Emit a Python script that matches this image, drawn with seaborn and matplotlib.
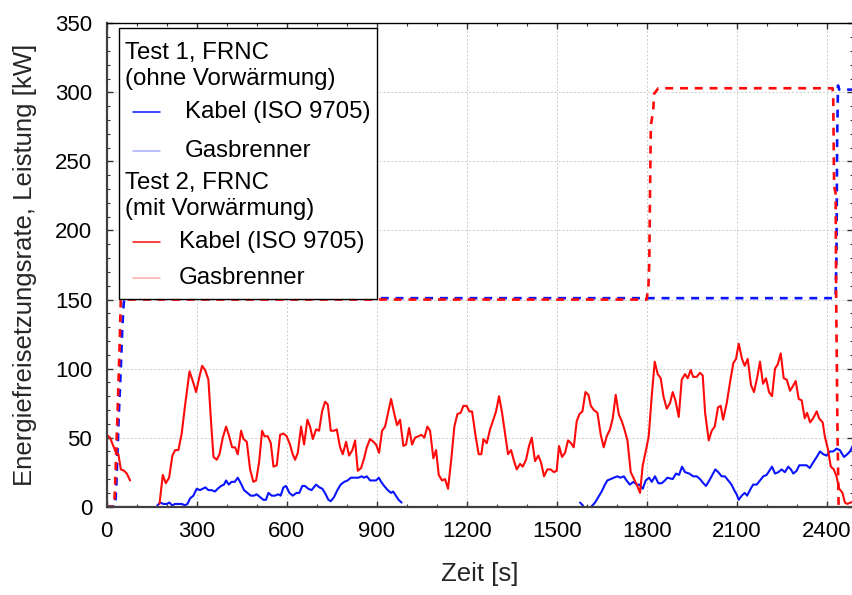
import matplotlib
matplotlib.use("Agg")
import numpy as np
import pandas as pd
import matplotlib.pyplot as plt
import seaborn as sns
from matplotlib.lines import Line2D
from matplotlib.ticker import MultipleLocator
from matplotlib.offsetbox import AnchoredOffsetbox, VPacker, HPacker, TextArea, DrawingArea

# Test 1, FRNC (ohne Vorwärmung) - Kabel, drei Abschnitte
t1_kabel_zeit_a = [0, 117]
t1_kabel_kw_a = [0, 0]
t1_kabel_zeit_b = [169, 178, 189, 200, 209, 218, 228, 239, 250, 261, 269, 278, 289, 300, 311, 320, 329, 339,
                   350, 361, 370, 381, 391, 398, 407, 416, 427, 437, 447, 458, 469, 480, 491, 500, 511, 522,
                   531, 539, 550, 561, 572, 580, 589, 598, 609, 620, 633, 642, 652, 661, 672, 683, 698, 709,
                   719, 730, 739, 747, 758, 769, 780, 792, 803, 814, 828, 839, 850, 858, 867, 878, 889, 898,
                   907, 915, 925, 937, 948, 955, 964, 973, 983]
t1_kabel_kw_b = [1, 3, 2, 2, 3, 1, 2, 2, 2, 1, 2, 6, 8, 13, 12, 13, 14, 12,
                 12, 11, 13, 15, 16, 19, 16, 18, 18, 21, 17, 12, 10, 8, 8, 9, 7, 5,
                 5, 10, 8, 8, 9, 8, 14, 15, 10, 8, 10, 10, 15, 15, 13, 12, 16, 14,
                 13, 9, 5, 4, 7, 12, 16, 18, 19, 21, 21, 21, 22, 21, 22, 19, 19, 19,
                 21, 18, 15, 12, 10, 11, 8, 5, 3]
t1_kabel_zeit_c = [1578, 1587, 1595, 1608, 1617, 1628, 1639, 1650, 1661, 1669, 1680, 1691, 1702, 1713, 1724,
                   1733, 1744, 1756, 1767, 1776, 1787, 1797, 1808, 1817, 1828, 1839, 1850, 1861, 1869, 1887,
                   1898, 1908, 1918, 1928, 1942, 1955, 1967, 1978, 1989, 1998, 2009, 2019, 2029, 2039, 2050,
                   2061, 2072, 2083, 2092, 2100, 2107, 2117, 2127, 2135, 2147, 2155, 2167, 2178, 2189, 2200,
                   2209, 2218, 2228, 2239, 2250, 2261, 2272, 2281, 2289, 2300, 2309, 2322, 2333, 2344, 2355,
                   2367, 2378, 2389, 2400, 2411, 2422, 2433, 2444, 2458, 2469, 2478, 2487]
t1_kabel_kw_c = [3, 1, -3, -3, 0.4, 3, 7, 11, 16, 19, 20, 21, 22, 21, 22,
                 19, 16, 18, 16, 16, 13, 19, 21, 18, 22, 17, 17, 19, 21, 20,
                 24, 23, 29, 25, 24, 22, 22, 20, 17, 15, 19, 23, 27, 25, 22,
                 22, 19, 16, 12, 9, 5, 8, 10, 8, 13, 16, 16, 19, 22, 23,
                 26, 29, 24, 25, 27, 25, 29, 27, 24, 26, 30, 30, 30, 28, 32,
                 36, 40, 38, 37, 40, 40, 42, 41, 36, 38, 40, 44]

# Test 1 - Gasbrenner
t1_gas_zeit = [0, 28, 32, 40, 47, 52, 57, 62, 2430, 2433, 2435, 2438, 2442, 2488]
t1_gas_kw = [0, 0, 15, 65, 100, 130, 148, 151, 151, 183, 263, 305, 302, 302]

# Test 2, FRNC (mit Vorwärmung) - Kabel, zwei Abschnitte
t2_kabel_zeit_a = [0, 11, 22, 31, 39, 47, 58, 67, 78]
t2_kabel_kw_a = [52, 50, 44, 39, 38, 27, 26, 24, 19]
t2_kabel_zeit_b = [176, 187, 197, 208, 219, 228, 239, 250, 261, 276, 287, 298, 309, 318, 328, 339, 348, 356,
                   367, 376, 387, 398, 407, 418, 428, 437, 448, 456, 467, 478, 489, 498, 508, 518, 526, 537,
                   547, 556, 567, 578, 589, 600, 611, 620, 628, 637, 648, 658, 669, 678, 687, 698, 708, 718,
                   728, 737, 747, 758, 767, 778, 787, 798, 808, 819, 828, 837, 848, 858, 867, 878, 889, 898,
                   908, 918, 928, 938, 948, 958, 968, 978, 989, 998, 1008, 1018, 1028, 1039, 1050, 1059, 1069,
                   1078, 1089, 1098, 1107, 1118, 1128, 1138, 1149, 1159, 1169, 1180, 1189, 1200, 1209, 1218,
                   1230, 1240, 1249, 1256, 1267, 1278, 1289, 1298, 1308, 1318, 1328, 1338, 1348, 1358, 1367,
                   1378, 1387, 1398, 1408, 1417, 1428, 1439, 1448, 1458, 1469, 1480, 1491, 1500, 1508, 1518,
                   1528, 1538, 1548, 1557, 1567, 1576, 1586, 1596, 1606, 1614, 1624, 1636, 1647, 1657, 1667,
                   1678, 1687, 1697, 1707, 1717, 1726, 1736, 1747, 1758, 1769, 1778, 1787, 1797, 1807, 1817,
                   1827, 1837, 1847, 1856, 1867, 1878, 1887, 1896, 1907, 1917, 1928, 1937, 1947, 1955, 1967,
                   1978, 1987, 1995, 2007, 2017, 2027, 2038, 2047, 2055, 2067, 2078, 2089, 2098, 2107, 2118,
                   2127, 2137, 2148, 2158, 2169, 2178, 2188, 2198, 2208, 2218, 2228, 2237, 2247, 2257, 2267,
                   2278, 2287, 2297, 2307, 2317, 2327, 2335, 2345, 2355, 2367, 2375, 2387, 2394, 2404, 2414,
                   2424, 2433, 2442, 2453, 2461, 2469, 2480, 2487]
t2_kabel_kw_b = [2, 23, 17, 21, 37, 41, 41, 53, 73, 98, 91, 83, 94, 102, 99, 92, 61, 36,
                 34, 38, 50, 58, 52, 43, 43, 38, 55, 49, 47, 27, 18, 19, 32, 55, 51, 51,
                 46, 29, 30, 52, 53, 51, 45, 38, 34, 39, 58, 45, 63, 58, 49, 56, 55, 69,
                 76, 74, 55, 55, 56, 43, 38, 47, 37, 41, 48, 26, 28, 35, 43, 49, 47, 45,
                 39, 55, 58, 68, 78, 68, 59, 63, 44, 45, 57, 45, 50, 51, 52, 50, 58,
                 55, 35, 41, 23, 19, 20, 13, 35, 58, 67, 68, 73, 73, 69, 69,
                 51, 38, 38, 49, 46, 56, 63, 69, 80, 68, 53, 38, 41, 33, 27,
                 31, 29, 34, 44, 50, 33, 37, 32, 22, 27, 27, 25, 26, 44, 36,
                 39, 48, 46, 43, 62, 67, 69, 83, 81, 73, 70, 68, 52, 43, 51,
                 56, 64, 81, 67, 62, 56, 48, 25, 20, 15, 10, 30, 40, 51, 80,
                 105, 96, 93, 80, 71, 75, 83, 77, 65, 92, 96, 93, 99, 94, 94,
                 97, 95, 68, 48, 55, 58, 72, 73, 63, 75, 90, 104, 107, 118, 107,
                 102, 107, 88, 83, 94, 105, 89, 93, 83, 80, 100, 103, 111, 93, 92,
                 84, 87, 91, 78, 77, 64, 68, 61, 64, 69, 64, 61, 51, 42, 29,
                 27, 22, 13, 10, 3, 2, 3, 3.5]

# Test 2 - Gasbrenner
t2_gas_zeit = [0, 25, 27, 35, 40, 44, 47, 1800, 1806, 1809, 1811, 1814, 1822, 1825, 1839,
               2420, 2422, 2425, 2430, 2432, 2436, 2440]
t2_gas_kw = [0, 0, 10, 60, 95, 125, 150, 150, 160, 178, 222, 276, 287, 299, 303,
             303, 297, 232, 227, 150, 60, 0]


def segments(*pairs):
    frames = []
    for i, (zeit, kw) in enumerate(pairs):
        frames.append(pd.DataFrame({"zeit": zeit, "kw": kw, "seg": i}))
    return pd.concat(frames, ignore_index=True)


df_t1_kabel = segments((t1_kabel_zeit_a, t1_kabel_kw_a), (t1_kabel_zeit_b, t1_kabel_kw_b),
                       (t1_kabel_zeit_c, t1_kabel_kw_c))
df_t1_gas = segments((t1_gas_zeit, t1_gas_kw))
df_t2_kabel = segments((t2_kabel_zeit_a, t2_kabel_kw_a), (t2_kabel_zeit_b, t2_kabel_kw_b))
df_t2_gas = segments((t2_gas_zeit, t2_gas_kw))

sns.set_style("ticks")
plt.rcParams["font.family"] = ["Liberation Sans", "DejaVu Sans"]

fig = plt.figure(figsize=(8.53, 5.95), dpi=100)
ax = fig.add_axes([0.1251, 0.1484, 0.8749, 0.8124])

blau = "#0a14ff"
rot = "#ff0a0a"
gestrichelt = (0, (3.0, 2.6))

sns.lineplot(data=df_t1_kabel, x="zeit", y="kw", units="seg", estimator=None, sort=False,
             color=blau, linewidth=1.5, ax=ax, legend=False)
sns.lineplot(data=df_t1_gas, x="zeit", y="kw", units="seg", estimator=None, sort=False,
             color=blau, linewidth=1.9, linestyle=gestrichelt, ax=ax, legend=False)
sns.lineplot(data=df_t2_kabel, x="zeit", y="kw", units="seg", estimator=None, sort=False,
             color=rot, linewidth=1.5, ax=ax, legend=False)
sns.lineplot(data=df_t2_gas, x="zeit", y="kw", units="seg", estimator=None, sort=False,
             color=rot, linewidth=1.9, linestyle=gestrichelt, ax=ax, legend=False)

ax.set_xlim(0, 2488)
ax.set_ylim(0, 350)
ax.xaxis.set_major_locator(MultipleLocator(300))
ax.xaxis.set_minor_locator(MultipleLocator(100))
ax.yaxis.set_major_locator(MultipleLocator(50))
ax.yaxis.set_minor_locator(MultipleLocator(10))
ax.tick_params(which="both", direction="in", top=True, right=True, colors="#333333",
               labelcolor="black", labelsize=16, pad=10.5)
ax.tick_params(which="major", length=4.5, width=1)
ax.tick_params(which="minor", length=2.5, width=0.8)
ax.grid(True, which="major", color="#cccccc", linestyle=(0, (2, 2)), linewidth=0.7)
for side in ["left", "bottom"]:
    ax.spines[side].set_linewidth(1.6)
    ax.spines[side].set_color("#404040")
for side in ["top", "right"]:
    ax.spines[side].set_linewidth(1.0)
    ax.spines[side].set_color("black")

ax.set_xlabel("Zeit [s]", fontsize=18.5, labelpad=14)
ax.set_ylabel("Energiefreisetzungsrate, Leistung [kW]", fontsize=18.5, labelpad=13)

# Legende mit Zwischenüberschriften
txt = dict(size=17.3, color="black")


def eintrag(farbe, label, sep, alpha=1.0, hoehe=25):
    da = DrawingArea(26, hoehe, 0, 0)
    da.add_artist(Line2D([5.4, 24.8], [hoehe / 2, hoehe / 2], color=farbe, linewidth=1.1, alpha=alpha))
    return HPacker(children=[da, TextArea(label, textprops=txt)], sep=sep, pad=0, align="center")


zeilen = [
    DrawingArea(1, 2.5),
    TextArea("Test 1, FRNC", textprops=txt),
    TextArea("(ohne Vorwärmung)", textprops=txt),
    eintrag(blau, "Kabel (ISO 9705)", 17),
    eintrag(blau, "Gasbrenner", 17, alpha=0.35),
    TextArea("Test 2, FRNC", textprops=txt),
    TextArea("(mit Vorwärmung)", textprops=txt),
    eintrag(rot, "Kabel (ISO 9705)", 12.6),
    eintrag(rot, "Gasbrenner", 12.6, alpha=0.35, hoehe=21),
]
box = VPacker(children=zeilen, sep=3.0, pad=0, align="left")
legende = AnchoredOffsetbox(loc="upper left", child=box, pad=0.27, borderpad=0, frameon=True,
                            prop=dict(size=17.3), bbox_to_anchor=(119 / 853, 1 - 28 / 595),
                            bbox_transform=fig.transFigure)
legende.patch.set_boxstyle("square", pad=0)
legende.patch.set_edgecolor("black")
legende.patch.set_linewidth(1.0)
legende.patch.set_facecolor("white")
legende.set_zorder(5)
ax.add_artist(legende)

fig.savefig("out.png", dpi=100)
